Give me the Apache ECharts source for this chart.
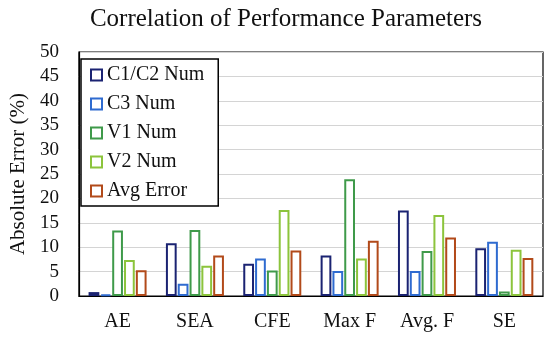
<!DOCTYPE html>
<html><head><meta charset="utf-8">
<script src="https://cdn.jsdelivr.net/npm/echarts@6/dist/echarts.min.js"></script>
<style>html,body{margin:0;padding:0;background:#fff}#c{width:550px;height:341px}</style>
</head><body><div id="c"></div>
<script>
const categories = ['AE', 'SEA', 'CFE', 'Max F', 'Avg. F', 'SE'];
const seriesNames = ['C1/C2 Num', 'C3 Num', 'V1 Num', 'V2 Num', 'Avg Error'];
const c1c2 = [0.8, 10.8, 6.6, 8.3, 17.5, 9.8];
const c3 = [0.3, 2.5, 7.7, 5.1, 5.1, 11.1];
const v1 = [13.4, 13.5, 5.2, 23.9, 9.2, 0.9];
const v2 = [7.4, 6.2, 17.6, 7.7, 16.6, 9.5];
const avgErr = [5.3, 8.3, 9.3, 11.3, 12.0, 7.8];
const yTicks = [0, 5, 10, 15, 20, 25, 30, 35, 40, 45, 50];
const colors = ['#1b2372', '#2f6bd0', '#3f9a4a', '#8cc43c', '#b24a1a'];
const dataSets = [c1c2, c3, v1, v2, avgErr];
const FONT = 'Liberation Serif';

const chart = echarts.init(document.getElementById('c'), null, {renderer: 'canvas'});
chart.setOption({
  animation: false,
  title: {
    text: 'Correlation of Performance Parameters',
    left: 281, top: 2, textAlign: 'center',
    textStyle: {fontFamily: FONT, fontSize: 25, fontWeight: 'normal', color: '#111'}
  },
  legend: {
    orient: 'vertical', left: 81, top: 59,
    backgroundColor: '#fff', borderColor: '#000', borderWidth: 1.5,
    padding: [6, 14, 5, 9],
    itemWidth: 11, itemHeight: 11, itemGap: 9, icon: 'rect',
    textStyle: {fontFamily: FONT, fontSize: 20, color: '#111', lineHeight: 20},
    data: seriesNames
  },
  grid: {left: 73, right: 7, top: 52, bottom: 45, show: true, borderColor: '#000', borderWidth: 1.2, backgroundColor: 'transparent'},
  xAxis: {
    type: 'category', data: categories,
    axisLine: {lineStyle: {color: '#000', width: 1.2}},
    axisTick: {show: false},
    axisLabel: {fontFamily: FONT, fontSize: 20, color: '#111', margin: 16}
  },
  yAxis: {
    type: 'value', min: 0, max: 50, interval: 5,
    name: 'Absolute Error (%)', nameLocation: 'middle', nameGap: 46,
    nameTextStyle: {fontFamily: FONT, fontSize: 21, color: '#111'},
    axisLine: {show: true, lineStyle: {color: '#000', width: 1.2}},
    axisTick: {show: false},
    axisLabel: {fontFamily: FONT, fontSize: 19, color: '#111', margin: 20,
      formatter: v => yTicks.includes(v) ? String(v) : ''},
    splitLine: {lineStyle: {color: '#d4d4d4', width: 1}}
  },
  series: dataSets.map((d, i) => ({
    name: seriesNames[i], type: 'bar', data: d,
    barGap: '10%', barCategoryGap: '25%',
    itemStyle: {color: '#fff', borderColor: colors[i], borderWidth: 2}
  }))
});
</script></body></html>
